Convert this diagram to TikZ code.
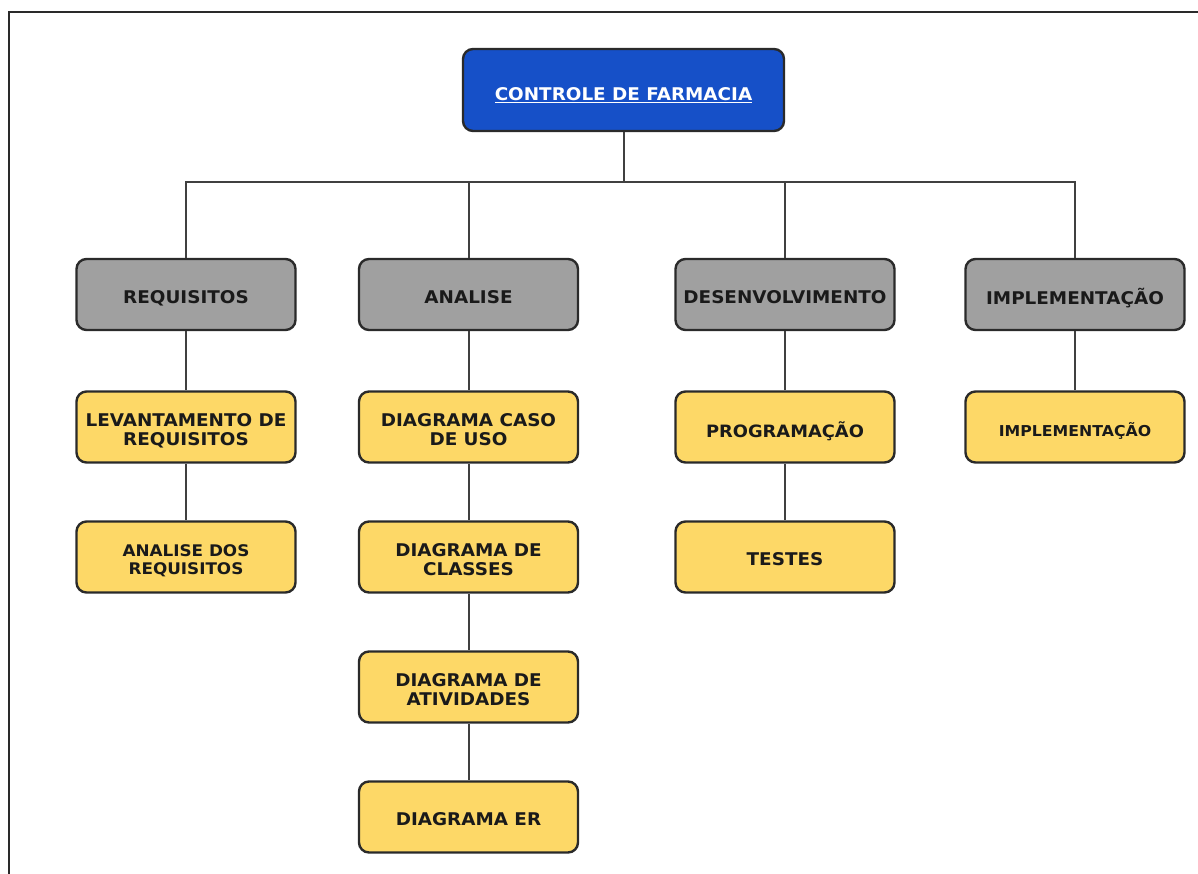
\documentclass[tikz,border=0pt]{standalone}
\usepackage{fontspec}
\setmainfont{DejaVu Sans}[FakeStretch=1.05]
\definecolor{boxline}{HTML}{2A2A2A}
\definecolor{connc}{HTML}{404040}
\definecolor{titlefill}{HTML}{1650C8}
\definecolor{grayfill}{HTML}{A0A0A0}
\definecolor{yellowfill}{HTML}{FDD867}
\definecolor{txt}{HTML}{1A1A1A}
\newcommand\boxtext[2][-5pt]{\raisebox{#1}[\height][\depth]{\begin{tabular}{@{}c@{}}#2\end{tabular}}}
\begin{document}
\begin{tikzpicture}[x=1pt,y=-1pt,
  box/.style={draw=boxline, line width=2.4pt, rounded corners=10pt,
    minimum width=219pt, minimum height=71pt, inner sep=0pt, align=center,
    font=\bfseries\fontsize{17.5}{19}\selectfont, text=txt},
  phase/.style={box, fill=grayfill},
  task/.style={box, fill=yellowfill},
  rootbox/.style={box, fill=titlefill, minimum width=321pt, minimum height=82pt,
    text=white, font=\bfseries\fontsize{17.5}{20}\selectfont},
  conn/.style={draw=connc, line width=2pt},
  frame/.style={draw=boxline, line width=2pt}]
\useasboundingbox (0,0) rectangle (1198,874);
% outer frame (top and left only)
\coordinate (fTL) at (9,12);
\coordinate (fTR) at (1198,12);
\coordinate (fBL) at (9,874);
\draw[frame] (fTR) -- (fTL) -- (fBL);

% root
\node[rootbox] (root) at (623.5,90) {\boxtext[-7pt]{\underline{CONTROLE DE FARMACIA}}};
\coordinate (bus) at (0,182);

% phases
\node[phase] (req)  at (186,294.5) {\boxtext{REQUISITOS}};
\node[phase] (ana)  at (468.5,294.5) {\boxtext{ANALISE}};
\node[phase] (dev)  at (785,294.5) {\boxtext{DESENVOLVIMENTO}};
\node[phase] (imp)  at (1075,294.5) {\boxtext{IMPLEMENTAÇÃO}};

% tasks
\node[task] (lev)  at (186,427) {\boxtext{LEVANTAMENTO DE\\REQUISITOS}};
\node[task, font=\bfseries\fontsize{16}{18.5}\selectfont] (anr)  at (186,557) {\boxtext{ANALISE DOS\\REQUISITOS}};
\node[task] (duc)  at (468.5,427) {\boxtext{DIAGRAMA CASO\\DE USO}};
\node[task] (dcl)  at (468.5,557) {\boxtext{DIAGRAMA DE\\CLASSES}};
\node[task] (dat)  at (468.5,687) {\boxtext{DIAGRAMA DE\\ATIVIDADES}};
\node[task] (der)  at (468.5,817) {\boxtext{DIAGRAMA ER}};
\node[task, font=\bfseries\fontsize{17}{19}\selectfont] (prg)  at (785,427) {\boxtext{PROGRAMAÇÃO}};
\node[task] (tst)  at (785,557) {\boxtext{TESTES}};
\node[task, font=\bfseries\fontsize{15}{18}\selectfont] (imt)  at (1075,427) {\boxtext{IMPLEMENTAÇÃO}};

% connectors root -> phases
\foreach \p in {req,ana,dev,imp}
  \draw[conn] (root.south) -- (root.south |- bus) -| (\p.north);

% vertical chains
\draw[conn] (req) -- (lev);
\draw[conn] (lev) -- (anr);
\draw[conn] (ana) -- (duc);
\draw[conn] (duc) -- (dcl);
\draw[conn] (dcl) -- (dat);
\draw[conn] (dat) -- (der);
\draw[conn] (dev) -- (prg);
\draw[conn] (prg) -- (tst);
\draw[conn] (imp) -- (imt);
\end{tikzpicture}
\end{document}
